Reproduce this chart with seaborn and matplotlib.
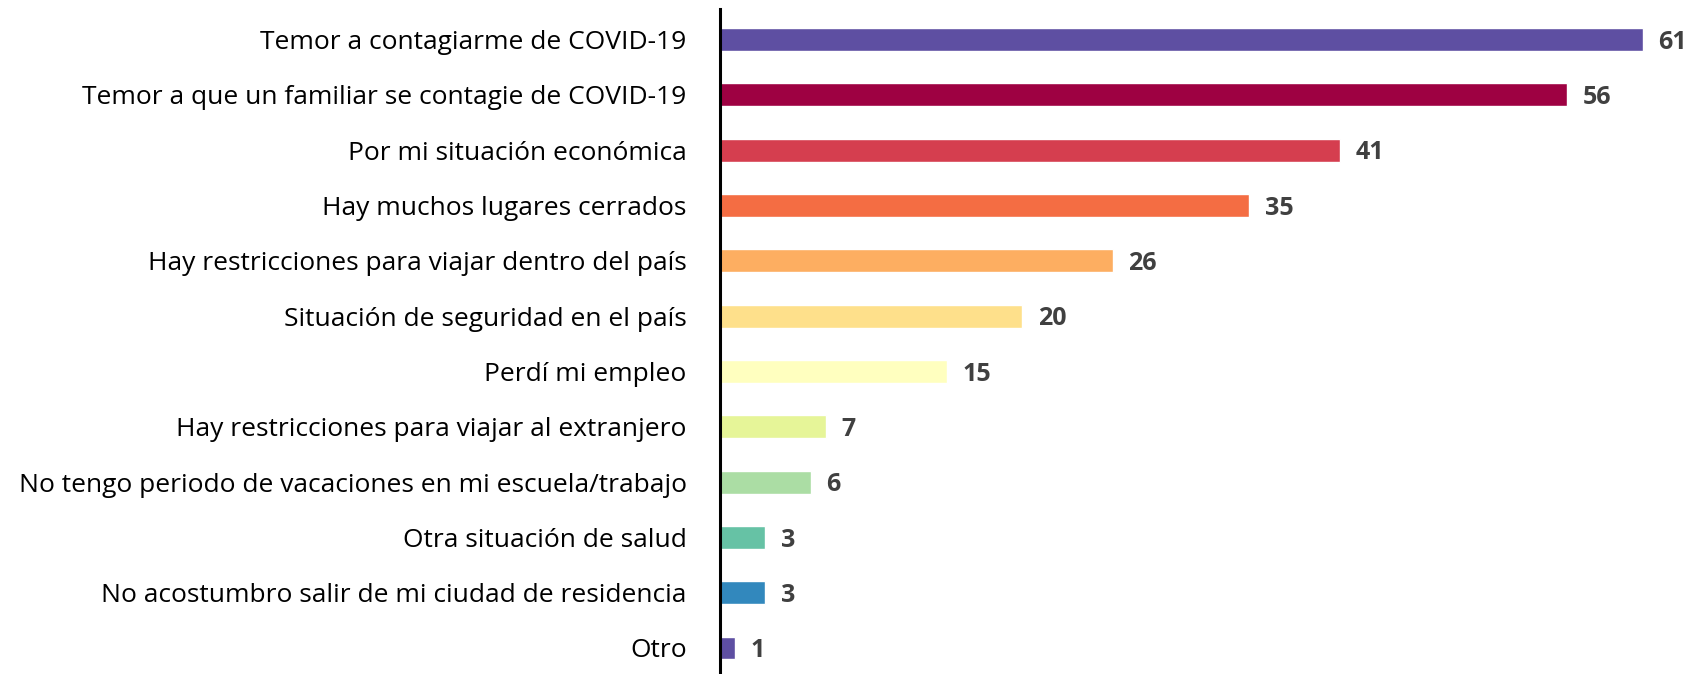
import matplotlib
matplotlib.use("Agg")
import matplotlib.pyplot as plt
import seaborn as sns
import pandas as pd

# Data
categories = [
    "Temor a contagiarme de COVID-19",
    "Temor a que un familiar se contagie de COVID-19",
    "Por mi situación económica",
    "Hay muchos lugares cerrados",
    "Hay restricciones para viajar dentro del país",
    "Situación de seguridad en el país",
    "Perdí mi empleo",
    "Hay restricciones para viajar al extranjero",
    "No tengo periodo de vacaciones en mi escuela/trabajo",
    "Otra situación de salud",
    "No acostumbro salir de mi ciudad de residencia",
    "Otro",
]
values = [61, 56, 41, 35, 26, 20, 15, 7, 6, 3, 3, 1]

bar_colors = ["#5e4fa2", "#9e0142", "#d53e4f", "#f46d43", "#fdae61", "#fee08b",
              "#ffffbf", "#e6f598", "#abdda4", "#66c2a5", "#3288bd", "#5e4fa2"]

df = pd.DataFrame({"Motivo": categories, "Porcentaje": values})

sns.set_style("white")
plt.rcParams["font.family"] = ["Open Sans", "DejaVu Sans"]

fig = plt.figure(figsize=(16.91, 6.74), dpi=100)
ax = fig.add_axes([720 / 1691, 0.0, 1 - 720 / 1691, 665 / 674])

sns.barplot(data=df, y="Motivo", x="Porcentaje", hue="Motivo",
            palette=bar_colors, legend=False, width=0.415, saturation=1, ax=ax)

for cont in ax.containers:
    labels = ax.bar_label(cont, fmt="%d", padding=11, fontsize=18,
                          fontweight="bold", color="#404040")
    for t in labels:
        t.xyann = (11, -2)  # sit slightly below bar centre like the original

ax.set_xlim(0, 64.2)
ax.set_ylim(11.47, -0.55)
ax.set_xlabel("")
ax.set_ylabel("")
ax.set_xticks([])
ax.tick_params(axis="y", length=0, pad=24, labelsize=19, labelcolor="black")

for s in ["top", "right", "bottom"]:
    ax.spines[s].set_visible(False)
ax.spines["left"].set_color("black")
ax.spines["left"].set_linewidth(2.2)

fig.savefig("out.png", dpi=100)
